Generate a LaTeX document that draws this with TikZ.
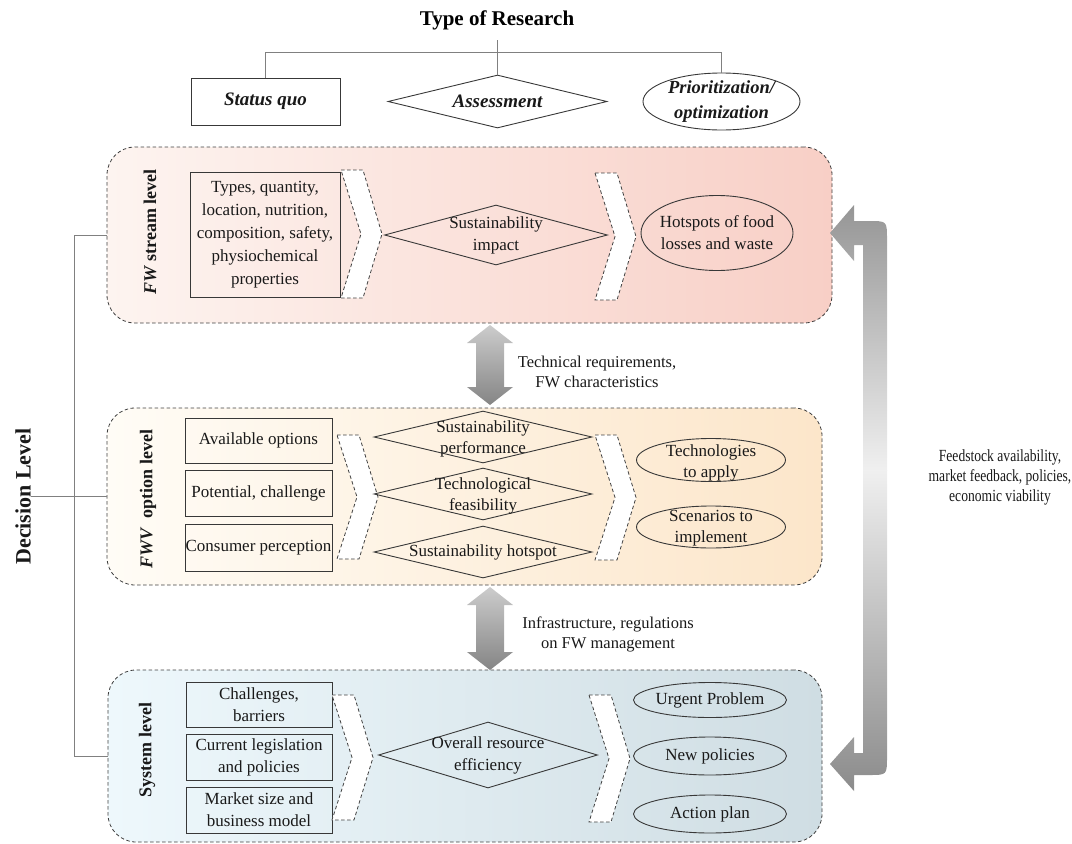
\documentclass[tikz,border=0pt]{standalone}
\usepackage{fontspec}
\usepackage{graphicx}
\setmainfont{Liberation Serif}
\usetikzlibrary{shapes.geometric,calc}
\definecolor{pkA}{HTML}{FDF4F0}
\definecolor{pkB}{HTML}{F8CFC6}
\definecolor{orA}{HTML}{FFFCF6}
\definecolor{orB}{HTML}{FCE6CA}
\definecolor{blA}{HTML}{EEF8FC}
\definecolor{blB}{HTML}{CFDDE3}
\newcommand\fs[2]{\fontsize{#1}{#2}\selectfont}
\newcommand\nar[1]{\scalebox{0.8}[1]{#1}}
\newcommand\chevr[3]{%
  \pgfmathsetmacro\chm{(#2+#3)/2}%
  \draw[chev] (#1,#2) -- (#1+22,#2) -- (#1+41,\chm) -- (#1+22,#3) -- (#1,#3) -- (#1+20,\chm) -- cycle;}
\begin{document}
\begin{tikzpicture}[x=1pt,y=-1pt,
  shp/.style={draw=black!78, line width=0.9pt, inner sep=0pt},
  box/.style={shp, rectangle},
  dia/.style={shp, diamond},
  ell/.style={shp, ellipse},
  txt/.style={align=center, inner sep=0pt, font=\fs{17}{22}, text=black!90},
  top/.style={txt, font=\fs{19}{24}\bfseries\itshape},
  lvl/.style={inner sep=0pt, font=\fs{18}{22}\bfseries, text=black!90, rotate=90},
  panel/.style={draw=black!75, dash pattern=on 3.5pt off 2.5pt, line width=0.8pt, rounded corners=28pt, inner sep=0pt},
  chev/.style={draw=black!75, dash pattern=on 3.5pt off 2.5pt, line width=0.8pt, fill=white},
  tree/.style={draw=black!50, line width=1pt},
  dbl/.style={top color=black!20, bottom color=black!48}
]
\useasboundingbox (0,0) rectangle (1072,844);

% ---------- type of research ----------
\node[font=\fs{21}{25}\bfseries, inner sep=0pt] (title) at (497,20) {Type of Research};
\node[box, minimum width=149pt, minimum height=47pt] (sq) at (265.5,101.5) {};
\node[top] (tsq) at (sq) {Status quo};
\node[dia, minimum width=219pt, minimum height=53pt] (as) at (497.5,101.5) {};
\node[top] (tas) at (as) {Assessment};
\node[ell, minimum width=157pt, minimum height=57pt] (pr) at (721.5,101.5) {};
\node[top, font=\fs{18.5}{25}\bfseries\itshape] (tpr) at (pr) {Prioritization/\\optimization};
\draw[tree] (as.north) -- ++(0,-35);
\draw[tree] (sq.north) -- ++(0,-25) -| (pr.north);

% ---------- panels ----------
\node[panel, left color=pkA, right color=pkB, minimum width=725pt, minimum height=176pt] (p1) at (469.5,235) {};
\node[panel, left color=orA, right color=orB, minimum width=715pt, minimum height=177pt] (p2) at (464.5,496.5) {};
\node[panel, left color=blA, right color=blB, minimum width=714pt, minimum height=172pt] (p3) at (465,756) {};

\node[lvl] (l1) at (150,232) {\textit{FW} stream level};
\node[lvl] (l2) at (148,499) {\textit{FWV}\ \ option level};
\node[lvl] (l3) at (147,750) {System level};

% ---------- panel 1 ----------
\node[box, minimum width=150pt, minimum height=125pt] (r1) at (265,234.5) {};
\node[txt, font=\fs{17}{23}] (tr1) at (r1) {Types, quantity,\\location, nutrition,\\composition, safety,\\physiochemical\\properties};
\chevr{341}{170}{298}
\node[dia, minimum width=223pt, minimum height=60pt] (d1) at (496,235) {};
\node[txt] (td1) at (d1) {Sustainability\\impact};
\chevr{595}{173}{300}
\node[ell, minimum width=152pt, minimum height=75pt] (e1) at (717,233) {};
\node[txt] (te1) at (e1) {Hotspots of food\\losses and waste};

% ---------- panel 2 ----------
\node[box, minimum width=147pt, minimum height=45pt] (r2a) at (258.5,440.5) {};
\node[txt] (tr2a) at (r2a) {Available options};
\node[box, minimum width=147pt, minimum height=46pt] (r2b) at (258.5,493) {};
\node[txt] (tr2b) at (r2b) {Potential, challenge};
\node[box, minimum width=147pt, minimum height=47pt] (r2c) at (258.5,547.5) {};
\node[txt] (tr2c) at (r2c) {Consumer perception};
\chevr{337}{435}{559}
\node[dia, minimum width=218pt, minimum height=52pt] (d2a) at (483,437) {};
\node[txt, font=\fs{17}{21}] (td2a) at (483,438.5) {Sustainability\\performance};
\node[dia, minimum width=218pt, minimum height=52pt] (d2b) at (483,494) {};
\node[txt, font=\fs{17}{21}] (td2b) at (483,495.5) {Technological\\feasibility};
\node[dia, minimum width=218pt, minimum height=52pt] (d2c) at (483,552) {};
\node[txt] (td2c) at (d2c) {Sustainability hotspot};
\chevr{595}{435}{560}
\node[ell, minimum width=149pt, minimum height=43pt] (e2a) at (711,460) {};
\node[txt, font=\fs{17}{21}] (te2a) at (711,463) {Technologies\\to apply};
\node[ell, minimum width=149pt, minimum height=42pt] (e2b) at (711,527) {};
\node[txt, font=\fs{17}{21}] (te2b) at (711,528) {Scenarios to\\implement};

% ---------- panel 3 ----------
\node[box, minimum width=146pt, minimum height=45pt] (r3a) at (259,704.5) {};
\node[txt] (tr3a) at (r3a) {Challenges,\\barriers};
\node[box, minimum width=146pt, minimum height=46pt] (r3b) at (259,757) {};
\node[txt] (tr3b) at (r3b) {Current legislation\\and policies};
\node[box, minimum width=146pt, minimum height=46pt] (r3c) at (259,810) {};
\node[txt] (tr3c) at (r3c) {Market size and\\business model};
\chevr{332}{695}{820}
\node[dia, minimum width=219pt, minimum height=66pt] (d3) at (488,755) {};
\node[txt] (td3) at (d3) {Overall resource\\efficiency};
\chevr{589}{695}{822}
\node[ell, minimum width=153pt, minimum height=35pt] (e3a) at (710,700) {};
\node[txt] (te3a) at (e3a) {Urgent Problem};
\node[ell, minimum width=153pt, minimum height=38pt] (e3b) at (710,756) {};
\node[txt] (te3b) at (e3b) {New policies};
\node[ell, minimum width=153pt, minimum height=38pt] (e3c) at (710,814) {};
\node[txt] (te3c) at (e3c) {Action plan};

% ---------- arrows between panels ----------
\shade[dbl] (490,325) -- (513,343) -- (504,343) -- (504,387) -- (513,387) -- (490,405)
  -- (467,387) -- (476,387) -- (476,343) -- (467,343) -- cycle;
\node[txt, font=\fs{16.5}{20}] (ta1) at (597,372) {Technical requirements,\\FW characteristics};
\shade[dbl] (490,587) -- (513,605) -- (504,605) -- (504,652) -- (513,652) -- (490,670)
  -- (467,652) -- (476,652) -- (476,605) -- (467,605) -- cycle;
\node[txt, font=\fs{16.5}{20}] (ta2) at (608,634) {Infrastructure, regulations\\on FW management};

% ---------- feedback arrow ----------
\begin{scope}
\clip (830,233) -- (854,205) -- (854,221) -- (869,221) .. controls (887,221) .. (887,239)
  -- (887,757) .. controls (887,775) .. (869,775) -- (854,775) -- (854,791) -- (830,764)
  -- (854,737) -- (854,753) -- (863,753) -- (863,245) -- (854,245) -- (854,261) -- cycle;
\shade[top color=black!42, bottom color=black!6] (826,200) rectangle (892,470);
\shade[top color=black!6, bottom color=black!46] (826,470) rectangle (892,796);
\end{scope}
\node[txt, font=\fs{17}{20}] (tfb) at (1000,477) {\nar{Feedstock availability,}\\\nar{market feedback, policies,}\\\nar{economic viability}};

% ---------- decision level ----------
\node[lvl, font=\fs{22}{26}\bfseries] (dl) at (23,496.5) {Decision Level};
\draw[tree] (p1.west) -- (74,235) -- (74,756) -- (p3.west);
\draw[tree] (dl.south) -- (p2.west);
\end{tikzpicture}
\end{document}
